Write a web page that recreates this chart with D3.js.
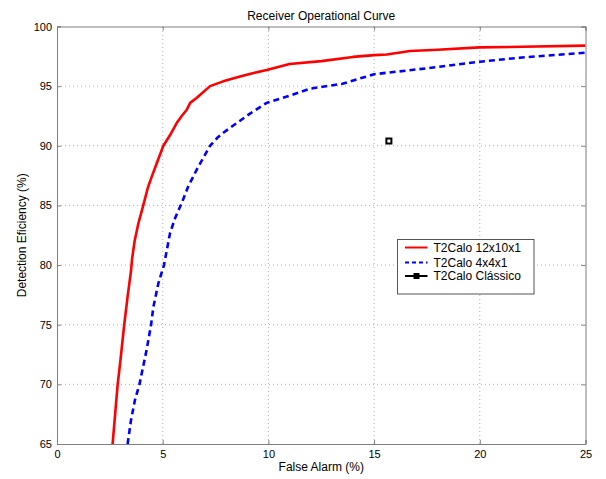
<!DOCTYPE html>
<html>
<head>
<meta charset="utf-8">
<script src="https://cdn.jsdelivr.net/npm/d3@7"></script>
<style>
  html, body { margin: 0; padding: 0; background: #fff; }
  svg text { font-family: "Liberation Sans", Arial, sans-serif; fill: #000; }
</style>
</head>
<body>
<svg id="chart" width="606" height="479"></svg>
<script>
// ROC curves: detection efficiency versus false alarm rate
const seriesNames = ["T2Calo 12x10x1", "T2Calo 4x4x1", "T2Calo Clássico"];

const falseAlarm12x10 = [2.63, 2.75, 2.87, 3.0, 3.18, 3.35, 3.5, 3.55, 3.67, 3.85, 4.08, 4.3, 4.5, 4.71, 5.03, 5.35, 5.66, 5.9, 6.13, 6.3, 6.6, 7.24, 7.86, 8.66, 9.3, 9.92, 11.0, 12.5, 14.0, 15.0, 15.6, 16.7, 18.0, 20.0, 22.0, 25.0];
const efficiency12x10 = [65, 67.5, 70, 72, 75, 77.5, 79.5, 80.5, 82, 83.5, 85, 86.5, 87.5, 88.5, 90, 90.9, 91.9, 92.5, 93.0, 93.6, 94.0, 95.0, 95.4, 95.8, 96.1, 96.35, 96.85, 97.1, 97.45, 97.6, 97.65, 97.95, 98.05, 98.25, 98.3, 98.4];

const falseAlarm4x4 = [3.34, 3.5, 3.69, 3.9, 4.24, 4.45, 4.56, 4.8, 5.06, 5.35, 5.6, 5.9, 6.21, 6.61, 7.24, 7.6, 7.87, 8.5, 9.13, 9.92, 11.0, 12.0, 13.5, 15.0, 16.5, 18.0, 20.0, 22.0, 25.0];
const efficiency4x4 = [65, 67, 68.7, 70, 72.9, 75, 76.5, 78.5, 80, 82.7, 84, 85.2, 86.6, 88, 90, 90.7, 91.1, 91.9, 92.7, 93.6, 94.2, 94.8, 95.2, 96.0, 96.3, 96.6, 97.05, 97.4, 97.8];

const falseAlarmClassic = [15.7];
const efficiencyClassic = [90.4];

const xTicks = [0, 5, 10, 15, 20, 25];
const yTicks = [65, 70, 75, 80, 85, 90, 95, 100];

const svg = d3.select("#chart");
const margin = { left: 57, right: 606 - 585.5, top: 26.5, bottom: 479 - 444 };
const W = 606, H = 479;
const x = d3.scaleLinear().domain([0, 25]).range([margin.left, W - margin.right]);
const y = d3.scaleLinear().domain([65, 100]).range([H - margin.bottom, margin.top]);

const boxColor = "#7f7f7f";

// dotted grid
const grid = svg.append("g");
grid.selectAll("line.gx").data(xTicks.slice(1, -1)).join("line")
  .attr("x1", d => x(d)).attr("x2", d => x(d))
  .attr("y1", y(65)).attr("y2", y(100))
  .attr("stroke", "#b0b0b0").attr("stroke-width", 1).attr("stroke-dasharray", "1,3");
grid.selectAll("line.gy").data(yTicks.slice(1, -1)).join("line")
  .attr("x1", x(0)).attr("x2", x(25))
  .attr("y1", d => y(d)).attr("y2", d => y(d))
  .attr("stroke", "#b0b0b0").attr("stroke-width", 1).attr("stroke-dasharray", "1,3");

// axes
const xAxis = svg.append("g").attr("transform", `translate(0,${y(65)})`)
  .call(d3.axisBottom(x).tickValues(xTicks).tickSize(-4).tickPadding(6).tickFormat(d3.format("d")));
const xAxisTop = svg.append("g").attr("transform", `translate(0,${y(100)})`)
  .call(d3.axisTop(x).tickValues(xTicks).tickSize(-4).tickFormat(""));
const yAxis = svg.append("g").attr("transform", `translate(${x(0)},0)`)
  .call(d3.axisLeft(y).tickValues(yTicks).tickSize(-4).tickPadding(5).tickFormat(d3.format("d")));
const yAxisRight = svg.append("g").attr("transform", `translate(${x(25)},0)`)
  .call(d3.axisRight(y).tickValues(yTicks).tickSize(-4).tickFormat(""));

[xAxis, xAxisTop, yAxis, yAxisRight].forEach(g => {
  g.select(".domain").attr("stroke", boxColor);
  g.selectAll(".tick line").attr("stroke", boxColor);
  g.selectAll(".tick text").attr("font-size", 11).attr("fill", "#000")
    .attr("font-family", "Liberation Sans, Arial, sans-serif");
});

// clip curves to the plotting box
svg.append("clipPath").attr("id", "plotClip").append("rect")
  .attr("x", x(0)).attr("y", y(100)).attr("width", x(25) - x(0)).attr("height", y(65) - y(100));

const line = d3.line().x(d => x(d[0])).y(d => y(d[1]));
const curves = svg.append("g").attr("clip-path", "url(#plotClip)");

const red = d3.zip(falseAlarm12x10, efficiency12x10);
const blue = d3.zip(falseAlarm4x4, efficiency4x4);

curves.append("path").datum(red).attr("d", line)
  .attr("fill", "none").attr("stroke", "#ff0000").attr("stroke-width", 2.6)
  .attr("stroke-linejoin", "round");
curves.append("path").datum(blue).attr("d", line)
  .attr("fill", "none").attr("stroke", "#0000ff").attr("stroke-width", 2.6)
  .attr("stroke-dasharray", "6,4");

// classic T2Calo operating point
svg.selectAll("rect.classic").data(d3.zip(falseAlarmClassic, efficiencyClassic)).join("rect")
  .attr("x", d => x(d[0]) - 2.5).attr("y", d => y(d[1]) - 2.5)
  .attr("width", 5).attr("height", 5)
  .attr("fill", "#fff").attr("stroke", "#000").attr("stroke-width", 2);

// title and axis labels
svg.append("text").attr("x", (x(0) + x(25)) / 2).attr("y", 20)
  .attr("text-anchor", "middle").attr("font-size", 12).text("Receiver Operational Curve");
svg.append("text").attr("x", (x(0) + x(25)) / 2).attr("y", 471)
  .attr("text-anchor", "middle").attr("font-size", 12).text("False Alarm (%)");
svg.append("text")
  .attr("transform", `translate(26,${(y(65) + y(100)) / 2}) rotate(-90)`)
  .attr("text-anchor", "middle").attr("font-size", 12).text("Detection Eficiency (%)");

// legend
const legend = svg.append("g").attr("transform", "translate(397.5,239.5)");
legend.append("rect").attr("width", 136.5).attr("height", 54.5)
  .attr("fill", "#fff").attr("stroke", "#555").attr("stroke-width", 1);
const rowsY = [8, 23, 36.5];
const colors = ["#ff0000", "#0000ff", "#000"];
const dashes = [null, "4,3", null];
seriesNames.forEach((name, i) => {
  const row = legend.append("g").attr("transform", `translate(0,${rowsY[i]})`);
  row.append("line").attr("x1", 7.5).attr("x2", 30).attr("y1", 0).attr("y2", 0)
    .attr("stroke", colors[i]).attr("stroke-width", 2).attr("stroke-dasharray", dashes[i]);
  if (i === 2) {
    row.append("rect").attr("x", 16.5).attr("y", -2.5).attr("width", 5).attr("height", 5)
      .attr("fill", "#000").attr("stroke", "#000").attr("stroke-width", 1);
  }
  row.append("text").attr("x", 36).attr("y", 4).attr("font-size", 12).text(name);
});
</script>
</body>
</html>
